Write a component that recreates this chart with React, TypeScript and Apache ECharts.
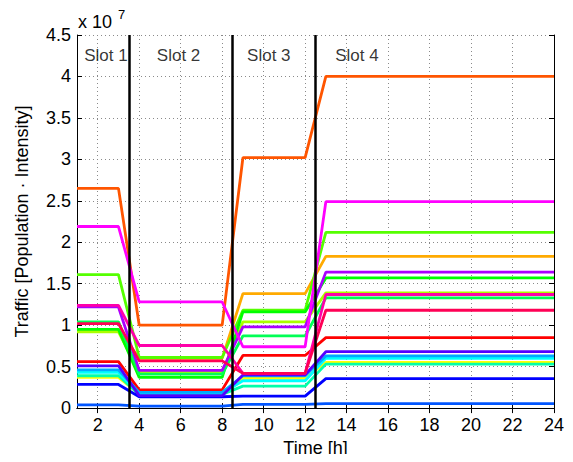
import React, { useEffect, useRef } from "react";
import * as echarts from "echarts";

// slot hour ranges: [start, end]
const slotStart = [1, 4, 9, 13];
const slotEnd = [3, 8, 12, 24];
const slotBoundaries = [3.5, 8.5, 12.5];
const slotNames = ["Slot 1", "Slot 2", "Slot 3", "Slot 4"];
const slotLabelHour = [1.35, 4.85, 9.2, 13.45];
const xTicks = [2, 4, 6, 8, 10, 12, 14, 16, 18, 20, 22, 24];

// traffic per slot (x 10^7)
const red = [0.56, 0.22, 0.635, 0.85];
const orangeRed = [2.65, 1.0, 3.02, 4.0];
const orange = [0.95, 0.6, 1.38, 1.83];
const yellow = [0.37, 0.17, 0.36, 0.55];
const yellowGreen = [0.92, 0.43, 1.04, 1.39];
const lime = [1.61, 0.61, 1.18, 2.12];
const green = [0.95, 0.37, 1.16, 1.57];
const springGreen = [1.04, 0.41, 0.87, 1.33];
const aquamarine = [0.39, 0.165, 0.265, 0.53];
const cyan = [0.43, 0.18, 0.33, 0.6];
const skyBlue = [0.46, 0.19, 0.39, 0.63];
const azure = [0.04, 0.024, 0.045, 0.053];
const blue = [0.285, 0.137, 0.145, 0.355];
const violet = [0.51, 0.15, 0.4, 0.68];
const purple = [1.22, 0.455, 0.98, 1.64];
const magenta = [2.19, 1.28, 0.74, 2.49];
const deepPink = [1.24, 0.755, 0.42, 1.37];
const crimson = [1.02, 0.57, 0.42, 1.18];

const seriesValues = [
  red, orangeRed, orange, yellow, yellowGreen, lime, green, springGreen, aquamarine,
  cyan, skyBlue, azure, blue, violet, purple, magenta, deepPink, crimson,
];
const seriesColors = [
  "#FF0000", "#FF5500", "#FFAA00", "#FFFF00", "#AAFF00", "#55FF00", "#00FF00", "#00FF55", "#00FFAA",
  "#00FFFF", "#00AAFF", "#0055FF", "#0000FF", "#5500FF", "#AA00FF", "#FF00FF", "#FF00AA", "#FF0055",
];

const FONT = "Liberation Sans";

export default function App() {
  const ref = useRef<HTMLDivElement>(null);
  useEffect(() => {
    if (!ref.current) return;
    const chart = echarts.init(ref.current, null, { renderer: "svg" });
    const grid = { left: 77, right: 19, top: 35, bottom: 53 };
    const toPoints = (vals: number[]) => {
      const pts: number[][] = [];
      vals.forEach((v, i) => {
        pts.push([slotStart[i], v]);
        pts.push([slotEnd[i], v]);
      });
      return pts;
    };
    const dotted = { lineStyle: { color: "#8a8a8a", type: [1, 3] as any, width: 1 } };
    const lineSeries = seriesValues.map((vals, i) => ({
      type: "line",
      data: toPoints(vals),
      showSymbol: false,
      symbol: "none",
      lineStyle: { color: seriesColors[i], width: 2.8 },
      itemStyle: { color: seriesColors[i] },
      z: 3,
    }));
    const option: any = {
      animation: false,
      textStyle: { fontFamily: FONT },
      grid,
      xAxis: [
        {
          type: "value",
          min: 1,
          max: 24,
          position: "bottom",
          name: "Time [h]",
          nameLocation: "middle",
          nameGap: 20,
          nameTextStyle: { fontSize: 18, color: "#000", fontFamily: FONT },
          axisLine: { lineStyle: { color: "#000", width: 1 } },
          axisTick: { inside: true, length: 5, customValues: xTicks, lineStyle: { color: "#000" } },
          axisLabel: { customValues: xTicks, fontSize: 18, color: "#000", margin: 8, fontFamily: FONT },
          splitLine: { show: true, ...dotted },
        },
        {
          type: "value",
          min: 1,
          max: 24,
          position: "top",
          axisLine: { lineStyle: { color: "#000", width: 1 } },
          axisTick: { inside: true, length: 5, customValues: xTicks, lineStyle: { color: "#000" } },
          axisLabel: { show: false },
          splitLine: { show: false },
        },
      ],
      yAxis: [
        {
          type: "value",
          min: 0,
          max: 4.5,
          interval: 0.5,
          position: "left",
          name: "Traffic [Population · Intensity]",
          nameLocation: "middle",
          nameGap: 46,
          nameTextStyle: { fontSize: 18, color: "#000", fontFamily: FONT },
          axisLine: { show: true, lineStyle: { color: "#000", width: 1 } },
          axisTick: { show: true, inside: true, length: 5, lineStyle: { color: "#000" } },
          axisLabel: { fontSize: 18, color: "#000", margin: 6, fontFamily: FONT },
          splitLine: { show: true, ...dotted },
        },
        {
          type: "value",
          min: 0,
          max: 4.5,
          interval: 0.5,
          position: "right",
          axisLine: { show: true, lineStyle: { color: "#000", width: 1 } },
          axisTick: { show: true, inside: true, length: 5, lineStyle: { color: "#000" } },
          axisLabel: { show: false },
          splitLine: { show: false },
        },
      ],
      series: [
        ...lineSeries,
        {
          type: "line",
          data: [],
          z: 5,
          markLine: {
            silent: true,
            symbol: ["none", "none"],
            label: { show: false },
            lineStyle: { color: "#000", width: 2.5, type: "solid" },
            data: slotBoundaries.map((b) => [
              { coord: [b, 0] },
              { coord: [b, 4.5] },
            ]),
          },
        },
        {
          type: "scatter",
          data: slotNames.map((n, i) => [slotLabelHour[i], 4.25, n]),
          symbolSize: 0,
          z: 6,
          label: {
            show: true,
            position: "right",
            distance: 0,
            formatter: (p: any) => p.data[2],
            fontSize: 17,
            color: "#000",
            fontFamily: FONT,
          },
        },
      ],
      graphic: [
        {
          type: "text",
          x: 78,
          y: 31,
          z: 10,
          style: { text: "x 10", fontSize: 18, fontFamily: FONT, fill: "#000", verticalAlign: "bottom", align: "left" },
        },
        {
          type: "text",
          x: 118,
          y: 21,
          z: 10,
          style: { text: "7", fontSize: 13, fontFamily: FONT, fill: "#000", verticalAlign: "bottom", align: "left" },
        },
      ],
    };
    chart.setOption(option);
    return () => chart.dispose();
  }, []);
  return <div ref={ref} style={{ width: 573, height: 462, margin: -8 }} />;
}
